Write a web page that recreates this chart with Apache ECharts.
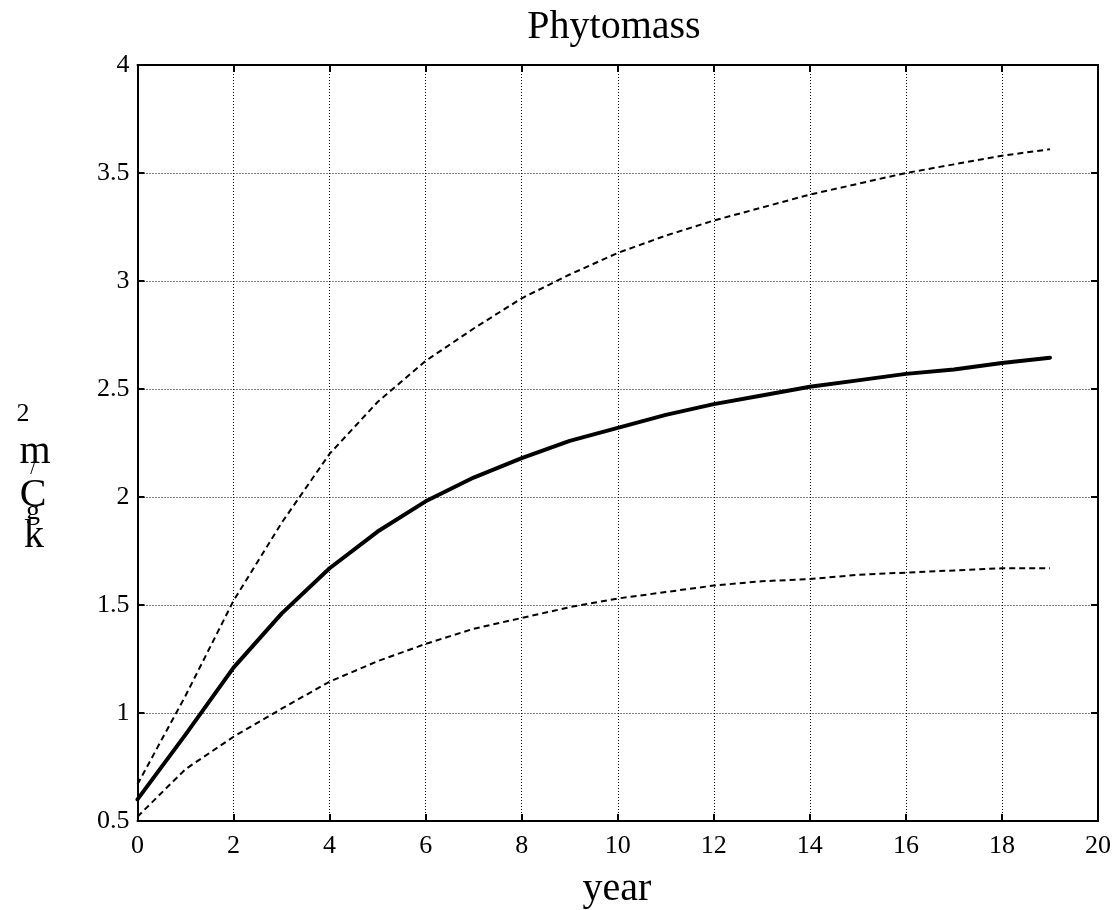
<!DOCTYPE html>
<html>
<head>
<meta charset="utf-8">
<script src="https://cdn.jsdelivr.net/npm/echarts@6/dist/echarts.min.js"></script>
<style>
  html, body { margin: 0; padding: 0; background: #fff; }
  #chart { width: 1115px; height: 910px; }
</style>
</head>
<body>
<div id="chart"></div>
<script>
// Simulated phytomass (kg C/m2) over 20 years: mean and upper/lower bounds
const years = [0, 1, 2, 3, 4, 5, 6, 7, 8, 9, 10, 11, 12, 13, 14, 15, 16, 17, 18, 19];
const meanValues = [0.60, 0.90, 1.21, 1.46, 1.67, 1.84, 1.98, 2.09, 2.18, 2.26, 2.32, 2.38, 2.43, 2.47, 2.51, 2.54, 2.57, 2.59, 2.62, 2.645];
const upperValues = [0.67, 1.08, 1.52, 1.88, 2.20, 2.44, 2.63, 2.78, 2.92, 3.03, 3.13, 3.21, 3.28, 3.34, 3.40, 3.45, 3.50, 3.54, 3.58, 3.61];
const lowerValues = [0.52, 0.74, 0.89, 1.02, 1.145, 1.24, 1.32, 1.39, 1.44, 1.49, 1.53, 1.56, 1.59, 1.61, 1.62, 1.64, 1.65, 1.66, 1.67, 1.67];
const xTicks = { min: 0, max: 20, step: 2 };
const yTicks = { min: 0.5, max: 4, step: 0.5 };

const serif = '"Liberation Serif", "DejaVu Serif", serif';

const pairs = (vals) => years.map((x, i) => [x, vals[i]]);

const chart = echarts.init(document.getElementById('chart'), null, { renderer: 'canvas' });

const gridLine = { show: true, lineStyle: { color: '#000', width: 1, type: [1, 2] } };
const tickIn = { show: true, inside: true, length: 7, lineStyle: { color: '#000', width: 2 } };
const axisLine = { show: true, onZero: false, lineStyle: { color: '#000', width: 2 } };
const label = { color: '#000', fontFamily: serif, fontSize: 26 };

chart.setOption({
  backgroundColor: '#fff',
  animation: false,
  grid: { left: 137.5, right: 17, top: 65, bottom: 89 },
  xAxis: [
    {
      type: 'value', position: 'bottom',
      min: xTicks.min, max: xTicks.max, interval: xTicks.step,
      axisLine, axisTick: tickIn, splitLine: gridLine,
      axisLabel: Object.assign({ margin: 12 }, label)
    },
    {
      type: 'value', position: 'top',
      min: xTicks.min, max: xTicks.max, interval: xTicks.step,
      axisLine, axisTick: tickIn, splitLine: { show: false },
      axisLabel: { show: false }
    }
  ],
  yAxis: [
    {
      type: 'value', position: 'left',
      min: yTicks.min, max: yTicks.max, interval: yTicks.step,
      axisLine, axisTick: tickIn, splitLine: gridLine,
      axisLabel: Object.assign({ margin: 8 }, label)
    },
    {
      type: 'value', position: 'right',
      min: yTicks.min, max: yTicks.max, interval: yTicks.step,
      axisLine, axisTick: tickIn, splitLine: { show: false },
      axisLabel: { show: false }
    }
  ],
  series: [
    {
      name: 'upper', type: 'line', data: pairs(upperValues),
      symbol: 'none', smooth: false,
      lineStyle: { color: '#000', width: 2, type: [6, 4] }
    },
    {
      name: 'lower', type: 'line', data: pairs(lowerValues),
      symbol: 'none', smooth: false,
      lineStyle: { color: '#000', width: 2, type: [6, 4] }
    },
    {
      name: 'mean', type: 'line', data: pairs(meanValues),
      symbol: 'none', smooth: false,
      lineStyle: { color: '#000', width: 4, cap: 'round', join: 'round' }
    }
  ],
  graphic: [
    { type: 'text', x: 614, y: 27, style: { text: 'Phytomass', font: '40px ' + serif, fill: '#000', textAlign: 'center', textVerticalAlign: 'middle' } },
    { type: 'text', x: 617, y: 889, style: { text: 'year', font: '40px ' + serif, fill: '#000', textAlign: 'center', textVerticalAlign: 'middle' } },
    // stacked y-axis unit label: kg C/m2
    { type: 'text', x: 23, y: 414, style: { text: '2', font: '26px ' + serif, fill: '#000', textAlign: 'center', textVerticalAlign: 'middle' } },
    { type: 'text', x: 35, y: 452, style: { text: 'm', font: '40px ' + serif, fill: '#000', textAlign: 'center', textVerticalAlign: 'middle' } },
    { type: 'text', x: 33, y: 469, style: { text: '/', font: '20px ' + serif, fill: '#000', textAlign: 'center', textVerticalAlign: 'middle' } },
    { type: 'text', x: 33, y: 495, style: { text: 'C', font: '40px ' + serif, fill: '#000', textAlign: 'center', textVerticalAlign: 'middle' } },
    { type: 'text', x: 33, y: 512, style: { text: 'g', font: '28px ' + serif, fill: '#000', textAlign: 'center', textVerticalAlign: 'middle' } },
    { type: 'text', x: 34, y: 536, style: { text: 'k', font: '40px ' + serif, fill: '#000', textAlign: 'center', textVerticalAlign: 'middle' } }
  ]
});
</script>
</body>
</html>
